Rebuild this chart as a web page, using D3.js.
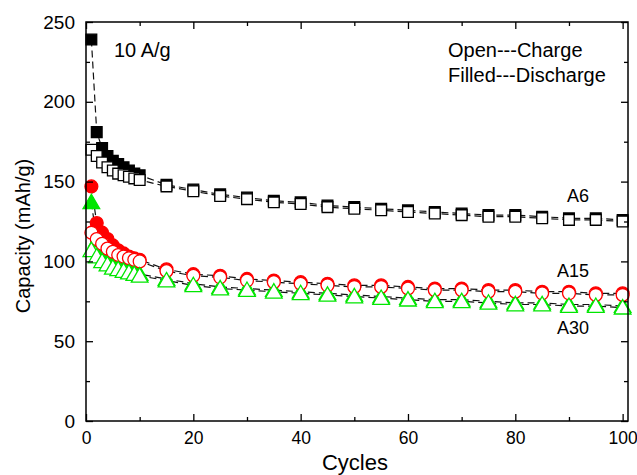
<!DOCTYPE html>
<html>
<head>
<meta charset="utf-8">
<script src="https://cdn.jsdelivr.net/npm/d3@7"></script>
<style>
  body { margin: 0; background: #fff; }
  text { font-family: Arial, "Liberation Sans", sans-serif; }
</style>
</head>
<body>
<div id="chart"></div>
<script>
/* DATA */
const cycles = [1, 2, 3, 4, 5, 6, 7, 8, 9, 10, 15, 20, 25, 30, 35, 40, 45, 50, 55, 60, 65, 70, 75, 80, 85, 90, 95, 100];

const a6Discharge = [239, 181, 171, 166, 163, 161, 159, 157, 155, 154, 148, 145, 142, 140, 138, 137, 135, 134, 133, 132, 131, 130, 129, 129, 128, 127, 127, 126];
const a6Charge    = [170, 166, 162, 159, 157, 155, 154, 153, 152, 151, 147, 144, 141, 139, 137, 136, 134, 133, 132, 131, 130, 129, 128, 128, 127, 126, 126, 125];

const a15Discharge = [147, 124, 118, 114, 110, 107, 105, 103, 102, 101, 95, 92, 91, 89, 88, 87, 86, 85, 85, 84, 83, 83, 82, 82, 81, 81, 80, 80];
const a15Charge    = [118, 114, 111, 108, 106, 104, 103, 102, 101, 100, 94, 91, 90, 88, 87, 86, 85, 84, 84, 83, 82, 82, 81, 81, 80, 80, 79, 79];

const a30Discharge = [137, 113, 107, 104, 101, 99, 97, 95, 94, 92, 89, 86, 84, 83, 82, 81, 80, 79, 78, 77, 76, 76, 75, 74, 74, 73, 73, 72];
const a30Charge    = [107, 103, 100, 98, 96, 95, 94, 93, 92, 91, 88, 85, 83, 82, 81, 80, 79, 78, 77, 76, 75, 75, 74, 73, 73, 72, 72, 71];

const xTicks = [0, 20, 40, 60, 80, 100];
const yTicks = [0, 50, 100, 150, 200, 250];

/* LAYOUT */
const width = 637, height = 475,
  margin = { top: 22, right: 9, bottom: 54, left: 86 };

const svg = d3.select("#chart").append("svg")
  .attr("width", width)
  .attr("height", height);

const xScale = d3.scaleLinear().domain([0, 101]).range([margin.left, width - margin.right]);
const yScale = d3.scaleLinear().domain([0, 250]).range([height - margin.bottom, margin.top]);

const x0 = xScale.range()[0], x1 = xScale.range()[1];
const y0 = yScale.range()[0], y1 = yScale.range()[1];

// discharge first so the open (charge) markers sit on top
const series = [
  { values: a6Discharge,  shape: "square",   color: "#000",    filled: true },
  { values: a15Discharge, shape: "circle",   color: "#ff0000", filled: true },
  { values: a30Discharge, shape: "triangle", color: "#00e600", filled: true },
  { values: a6Charge,     shape: "square",   color: "#000",    filled: false },
  { values: a15Charge,    shape: "circle",   color: "#ff0000", filled: false },
  { values: a30Charge,    shape: "triangle", color: "#00e600", filled: false }
];

// dashed connectors
const line = d3.line().x(d => xScale(d[0])).y(d => yScale(d[1]));
series.forEach(s => {
  svg.append("path")
    .attr("d", line(cycles.map((c, i) => [c, s.values[i]])))
    .attr("fill", "none")
    .attr("stroke", "#111")
    .attr("stroke-width", 1.2)
    .attr("stroke-dasharray", "7,4");
});

const symbols = {
  square: d3.symbol().type(d3.symbolSquare).size(115),
  circle: d3.symbol().type(d3.symbolCircle).size(130),
  triangle: d3.symbol().type(d3.symbolTriangle).size(120)
};

series.forEach(s => {
  svg.append("g").selectAll("path")
    .data(cycles.map((c, i) => [c, s.values[i]]))
    .join("path")
    .attr("d", symbols[s.shape]())
    .attr("transform", d => `translate(${xScale(d[0])},${yScale(d[1]) + (s.shape === "triangle" ? 1.5 : 0)})`)
    .attr("fill", s.filled ? s.color : "#fff")
    .attr("stroke", s.color)
    .attr("stroke-width", 1.3);
});

// frame
svg.append("rect")
  .attr("x", x0).attr("y", y1)
  .attr("width", x1 - x0).attr("height", y0 - y1)
  .attr("fill", "none")
  .attr("stroke", "#000")
  .attr("stroke-width", 1.5);

// inward ticks on all four sides
const xMinor = d3.range(10, 101, 20);
const yMinor = d3.range(25, 250, 50);

function ticks(axis, pos, values, size, fontSize) {
  const g = svg.append("g").attr("transform", pos)
    .call(axis.tickValues(values).tickSize(-size).tickPadding(fontSize ? 11 : 0)
      .tickFormat(fontSize ? d3.format("d") : ""));
  g.select(".domain").remove();
  g.selectAll("line").attr("stroke-width", 1.3);
  g.selectAll("text").attr("font-size", fontSize).attr("fill", "#000");
}

ticks(d3.axisBottom(xScale), `translate(0,${y0})`, xTicks, 7, 17.5);
ticks(d3.axisBottom(xScale), `translate(0,${y0})`, xMinor, 4, 0);
ticks(d3.axisTop(xScale), `translate(0,${y1})`, xTicks, 7, 0);
ticks(d3.axisTop(xScale), `translate(0,${y1})`, xMinor, 4, 0);
ticks(d3.axisLeft(yScale), `translate(${x0},0)`, yTicks, 7, 19);
ticks(d3.axisLeft(yScale), `translate(${x0},0)`, yMinor, 4, 0);
ticks(d3.axisRight(yScale), `translate(${x1},0)`, yTicks, 7, 0);
ticks(d3.axisRight(yScale), `translate(${x1},0)`, yMinor, 4, 0);

// axis titles
svg.append("text")
  .attr("x", 355)
  .attr("y", 470)
  .attr("text-anchor", "middle")
  .attr("font-size", 22)
  .text("Cycles");

svg.append("text")
  .attr("transform", `translate(30,236) rotate(-90)`)
  .attr("text-anchor", "middle")
  .attr("font-size", 20)
  .text("Capacity (mAh/g)");

// annotations
svg.append("text").attr("x", 114).attr("y", 57).attr("font-size", 20).text("10 A/g");
svg.append("text").attr("x", 448).attr("y", 57).attr("font-size", 20).text("Open---Charge");
svg.append("text").attr("x", 448).attr("y", 82).attr("font-size", 20).text("Filled---Discharge");
svg.append("text").attr("x", 567).attr("y", 202).attr("font-size", 18).text("A6");
svg.append("text").attr("x", 557).attr("y", 277).attr("font-size", 18).text("A15");
svg.append("text").attr("x", 557).attr("y", 334).attr("font-size", 18).text("A30");
</script>
</body>
</html>
